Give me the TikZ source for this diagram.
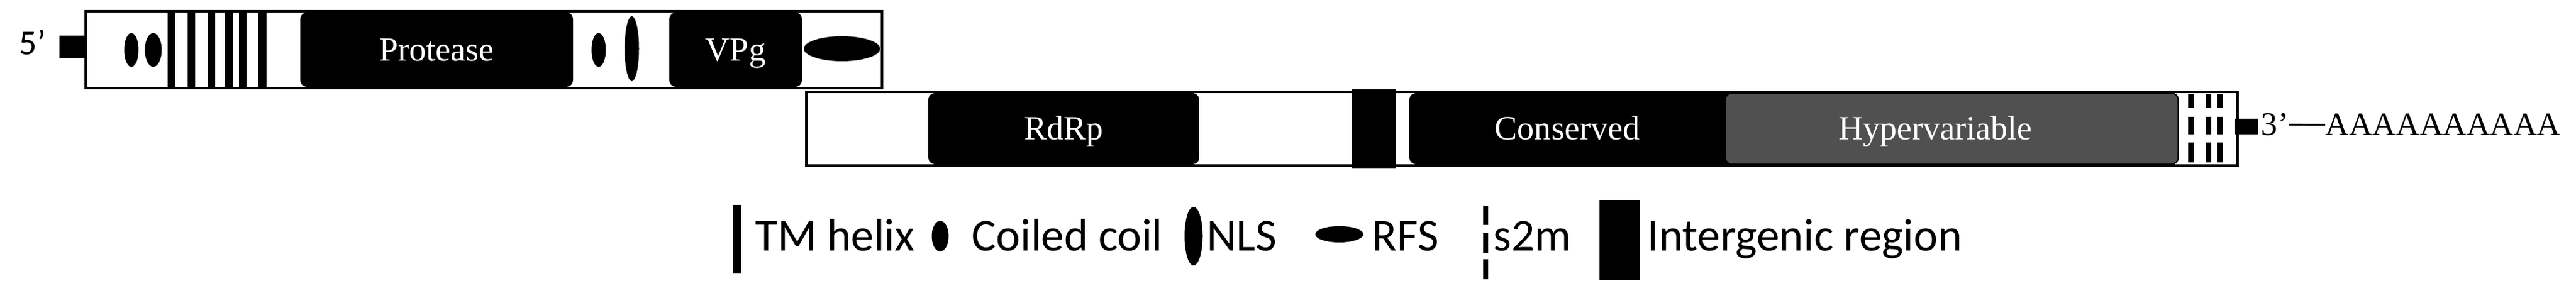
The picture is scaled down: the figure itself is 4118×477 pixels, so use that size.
\documentclass[tikz,border=0pt]{standalone}
\usepackage{fontspec}
\newfontfamily\legfont{Carlito}
\newfontfamily\segfont{Liberation Serif}
\definecolor{hvgrey}{RGB}{80,80,80}
\tikzset{
	orf/.style={draw=black, line width=1.15pt},
	protblock/.style={fill=black, rounded corners=3pt},
	seglabel/.style={text=white, anchor=base, inner sep=0pt, font=\segfont\fontsize{15.4}{17}\selectfont},
	endlabel/.style={anchor=base west, inner sep=0pt},
	legtext/.style={anchor=base west, inner sep=0pt, font=\legfont\fontsize{20.8}{24}\selectfont},
}
\begin{document}
\begin{tikzpicture}[x=0.01cm, y=-0.01cm]
	\useasboundingbox (0,0) rectangle (4118,477);

	% ORF1
	\fill[white] (137,18) rectangle (1410,141);
	\fill (95,57) rectangle (137,93);
	\node[endlabel, font=\legfont\fontsize{16}{18}\selectfont] (five) at (30,88) {5’};
	\fill (210,80) ellipse [x radius=11.5, y radius=27];
	\fill (245,80) ellipse [x radius=13.5, y radius=27];
	\foreach \a/\b in {268/280,300/312,332/344,359/372,382/394,413/426}
		\fill (\a,18) rectangle (\b,141);
	\fill[protblock] (480,20) rectangle (916,139);
	\path (480,98) -- (916,98) node[midway, seglabel] (protease) {Protease};
	\fill (957,80) ellipse [x radius=11.5, y radius=27];
	\fill (1010,78) ellipse [x radius=11.5, y radius=52];
	\fill[protblock] (1070,20) rectangle (1282,139);
	\path (1070,98) -- (1282,98) node[midway, seglabel] (vpg) {VPg};
	\fill (1346,78) ellipse [x radius=61, y radius=20];
	\draw[orf] (137,18) rectangle (1410,141);

	% ORF2
	\fill[white] (1289,147) rectangle (3577,265);
	\fill[protblock] (1484,149) rectangle (1917,263);
	\path (1484,224) -- (1917,224) node[midway, seglabel] (rdrp) {RdRp};
	\fill[protblock] (2253,149) rectangle (2790,263);
	\path (2253,224) -- (2758,224) node[midway, seglabel] (conserved) {Conserved};
	\draw[protblock, fill=hvgrey, line width=0.6pt] (2758,149) rectangle (3482,263);
	\path (2758,224) -- (3430,224) node[midway, seglabel] (hyper) {Hypervariable};
	\foreach \x in {3502,3530,3548}
		\foreach \a/\b in {150/173,187/215,228/260}
			\fill (\x-4.5,\a) rectangle (\x+4.5,\b);
	\draw[orf] (1289,147) rectangle (3577,265);
	\fill (2161,143) rectangle (2231,270);
	\fill (3572,190) rectangle (3610,215);
	\node[endlabel, font=\segfont\fontsize{15}{17}\selectfont] (three) at (3614,217) {3’};
	\node[endlabel, font=\segfont\fontsize{14.8}{17}\selectfont] (polya) at (3717,217) {AAAAAAAAAA};
	\draw[line width=0.85pt] (three.east) -- (polya.west);

	% legend
	\fill (1172,328) rectangle (1185,438);
	\node[legtext] (tm) at (1207,402) {TM helix};
	\fill (1503,378) ellipse [x radius=13.5, y radius=24.5];
	\node[legtext] (cc) at (1553,402) {Coiled coil};
	\fill (1908,378) ellipse [x radius=14.5, y radius=47];
	\node[legtext] (nls) at (1929,402) {NLS};
	\fill (2141,375) ellipse [x radius=38.5, y radius=13];
	\node[legtext] (rfs) at (2193,402) {RFS};
	\foreach \a/\b in {330/360,373/405,415/447}
		\fill (2371,\a) rectangle (2379,\b);
	\node[legtext] (s2m) at (2387,402) {s2m};
	\fill (2557,320) rectangle (2622,448);
	\node[legtext] (igr) at (2633,402) {Intergenic region};
\end{tikzpicture}
\end{document}
